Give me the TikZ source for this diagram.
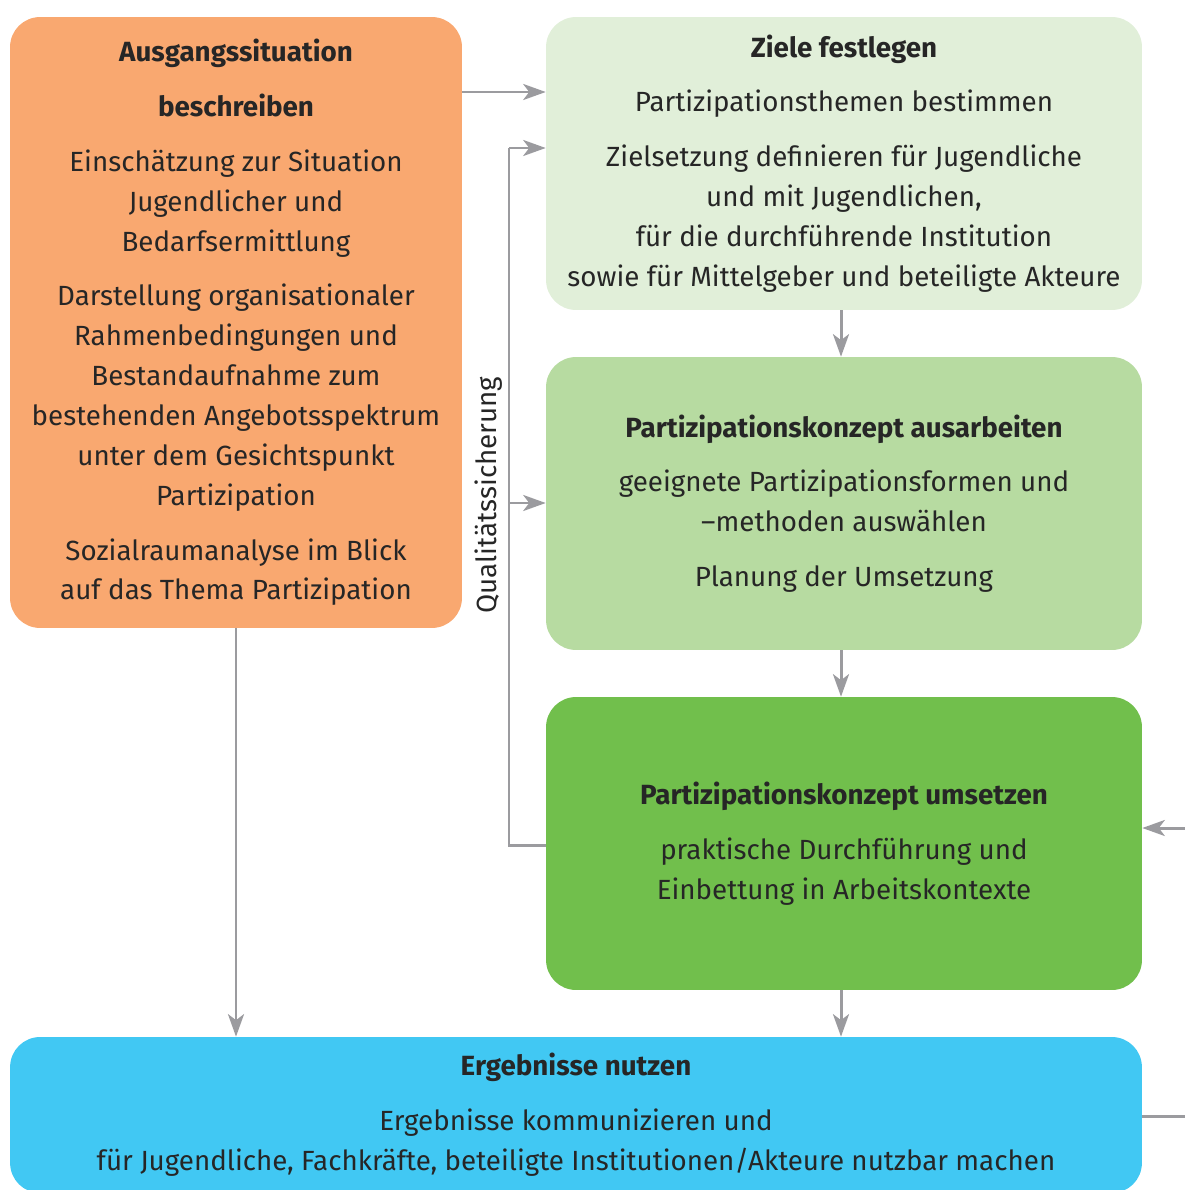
\documentclass[tikz,border=0pt]{standalone}
\usepackage{fontspec}
\setmainfont{Fira Sans}
\usetikzlibrary{arrows.meta}
\usetikzlibrary{calc}

\definecolor{orangebox}{HTML}{F9A870}
\definecolor{paleGreen}{HTML}{E1EFD9}
\definecolor{midGreen}{HTML}{B7DBA1}
\definecolor{strongGreen}{HTML}{71BF4C}
\definecolor{skyBlue}{HTML}{41C8F3}
\definecolor{lineGray}{HTML}{9B9B9F}
\definecolor{textDark}{HTML}{262626}

\tikzset{
	box/.style={rounded corners=0.6cm, align=center, inner sep=0pt,
		font=\fontsize{15.8}{22.7}\selectfont, text=textDark},
	conn/.style={draw=lineGray, line width=1.7pt},
	arr/.style={conn, -{Stealth[length=0.45cm, width=0.32cm, inset=0.12cm]}}
}

\begin{document}
\begin{tikzpicture}[x=0.02cm, y=-0.02cm]
		\useasboundingbox (0,0) rectangle (1185,1190);

		% Define the boxes
		\node[box, fill=orangebox, minimum width=9.04cm, minimum height=12.22cm] (ausgang) at (236,322.5)
			{\textbf{Ausgangssituation}\\[8.5pt] \textbf{beschreiben}\\[8.5pt]
			 Einschätzung zur Situation\\ Jugendlicher und\\ Bedarfsermittlung\\[8.5pt]
			 Darstellung organisationaler\\ Rahmenbedingungen und\\ Bestandaufnahme zum\\
			 bestehenden Angebotsspektrum\\ unter dem Gesichtspunkt\\ Partizipation\\[8.5pt]
			 Sozialraumanalyse im Blick\\ auf das Thema Partizipation};
		\node[box, fill=paleGreen, minimum width=11.92cm, minimum height=5.86cm] (ziele) at (844,163.5)
			{\textbf{Ziele festlegen}\\[8.5pt] Partizipationsthemen bestimmen\\[8.5pt]
			 Zielsetzung definieren für Jugendliche\\ und mit Jugendlichen,\\
			 für die durchführende Institution\\ sowie für Mittelgeber und beteiligte Akteure};
		\node[box, fill=midGreen, minimum width=11.92cm, minimum height=5.86cm] (konzept) at (844,503.5)
			{\textbf{Partizipationskonzept ausarbeiten}\\[8.5pt]
			 geeignete Partizipationsformen und\\ –methoden auswählen\\[8.5pt]
			 Planung der Umsetzung};
		\node[box, fill=strongGreen, minimum width=11.92cm, minimum height=5.86cm] (umsetzen) at (844,843.5)
			{\textbf{Partizipationskonzept umsetzen}\\[8.5pt]
			 praktische Durchführung und\\ Einbettung in Arbeitskontexte};
		\node[box, fill=skyBlue, minimum width=22.64cm, minimum height=3.12cm] (ergebnis) at (576,1115)
			{\textbf{Ergebnisse nutzen}\\[8.5pt] Ergebnisse kommunizieren und\\
			 für Jugendliche, Fachkräfte, beteiligte Institutionen/Akteure nutzbar machen};

		% Draw the arrows
		\foreach \a/\b in {ziele/konzept, konzept/umsetzen, umsetzen/ergebnis}
			\draw[arr] ([xshift=-0.06cm]\a.south) -- ([xshift=-0.06cm]\a.south |- \b.north);
		\draw[arr] (ausgang.south) -- (ausgang.south |- ergebnis.north);
		\draw[arr] (ausgang.east |- 0,92) -- (ziele.west |- 0,92);

		% Qualitaetssicherung loop
		\coordinate (qtop) at (509,148);
		\coordinate (qmid) at (509,503);
		\coordinate (qbot) at (509,845);
		\draw[conn] (umsetzen.west |- qbot) -- (qbot) -- (qtop);
		\draw[arr] (qtop) -- (ziele.west |- qtop);
		\draw[arr] (qmid) -- (konzept.west |- qmid);
		\node[rotate=90, font=\fontsize{15.8}{18}\selectfont, text=textDark] (quali) at (489,495) {Qualitätssicherung};

		% Loose ends on the right
		\coordinate (rin) at (1185,828);
		\coordinate (rout) at (1185,1116);
		\draw[arr] (rin) -- (umsetzen.east |- rin);
		\draw[conn] (ergebnis.east |- rout) -- (rout);
	\end{tikzpicture}
\end{document}
